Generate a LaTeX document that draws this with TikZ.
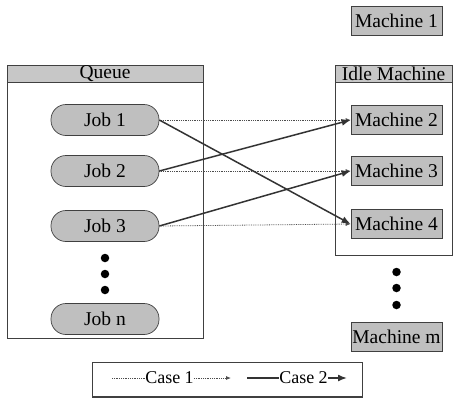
\documentclass[tikz,border=0pt]{standalone}
\usepackage{fontspec}
\setmainfont{Liberation Serif}
\usetikzlibrary{arrows.meta}
\begin{document}
\begin{tikzpicture}[x=1pt,y=-1pt,
  every node/.style={font=\fontsize{19.5}{21}\selectfont, inner sep=0pt},
  jobbox/.style={draw=black!75, fill=black!25, rounded corners=15pt, minimum width=108pt, minimum height=31pt, line width=0.7pt},
  machbox/.style={draw=black!75, fill=black!25, minimum width=91pt, minimum height=29pt, line width=0.7pt},
  panel/.style={draw=black!75, line width=0.7pt},
  header/.style={draw=black!75, fill=black!22, minimum height=17pt, line width=0.7pt},
  case1/.style={draw=black!70, densely dotted, line width=0.8pt},
  case2/.style={draw=black!80, line width=1.5pt},
  tip1/.style={-{Latex[length=5pt,width=4pt]}},
  tip2/.style={-{Latex[length=9pt,width=7pt]}},
  legtext/.style={font=\fontsize{18}{20}\selectfont},
  dot/.style={circle, fill=black, minimum size=8.5pt}
]
\useasboundingbox (0,0) rectangle (453,400);

% Queue panel
\draw[panel] (7,65) rectangle (203,338);
\node[header, minimum width=196pt] (qh) at (105,73.5) {Queue};

% Idle machine panel
\draw[panel] (335,65) rectangle (452,255);
\node[header, minimum width=117pt] (ih) at (393.5,73.5) {Idle Machine};

% Jobs
\node[jobbox] (j1) at (105,120) {Job 1};
\node[jobbox] (j2) at (105,171) {Job 2};
\node[jobbox] (j3) at (105,226) {Job 3};
\node[jobbox] (jn) at (105,319) {Job n};
\node[dot] (jd1) at (105,258) {};
\node[dot] (jd2) at (105,274) {};
\node[dot] (jd3) at (105,290) {};

% Machines
\node[machbox] (m1) at (396.5,21) {Machine 1};
\node[machbox] (m2) at (396.5,120) {Machine 2};
\node[machbox] (m3) at (396.5,171) {Machine 3};
\node[machbox] (m4) at (396.5,224) {Machine 4};
\node[machbox] (mm) at (396.5,337) {Machine m};
\node[dot] (md1) at (396.5,272) {};
\node[dot] (md2) at (396.5,288) {};
\node[dot] (md3) at (396.5,305) {};

% Case 1 (dotted)
\draw[case1, tip1] (j1.east) -- (m2.west);
\draw[case1, tip1] (j2.east) -- (m3.west);
\draw[case1, tip1] (j3.east) -- (m4.west);

% Case 2 (solid)
\draw[case2, tip2] (j1.east) -- (m4.west);
\draw[case2, tip2] (j2.east) -- (m2.west);
\draw[case2, tip2] (j3.east) -- (m3.west);

% Legend
\draw[panel] (92,362) rectangle (362,397);
\draw[draw=black!75, line width=1.4pt] (92,397) -- (362,397);
\coordinate (l1a) at (112,378);
\node[legtext] (c1) at (169.5,378) {Case 1};
\coordinate (l1b) at (231,378);
\draw[case1] (l1a) -- (c1.west);
\draw[case1, tip1] (c1.east) -- (l1b);
\coordinate (l2a) at (247,378);
\node[legtext] (c2) at (303.5,378) {Case 2};
\coordinate (l2b) at (347,378);
\draw[case2] (l2a) -- (c2.west);
\draw[case2, tip2] (c2.east) -- (l2b);
\end{tikzpicture}
\end{document}
